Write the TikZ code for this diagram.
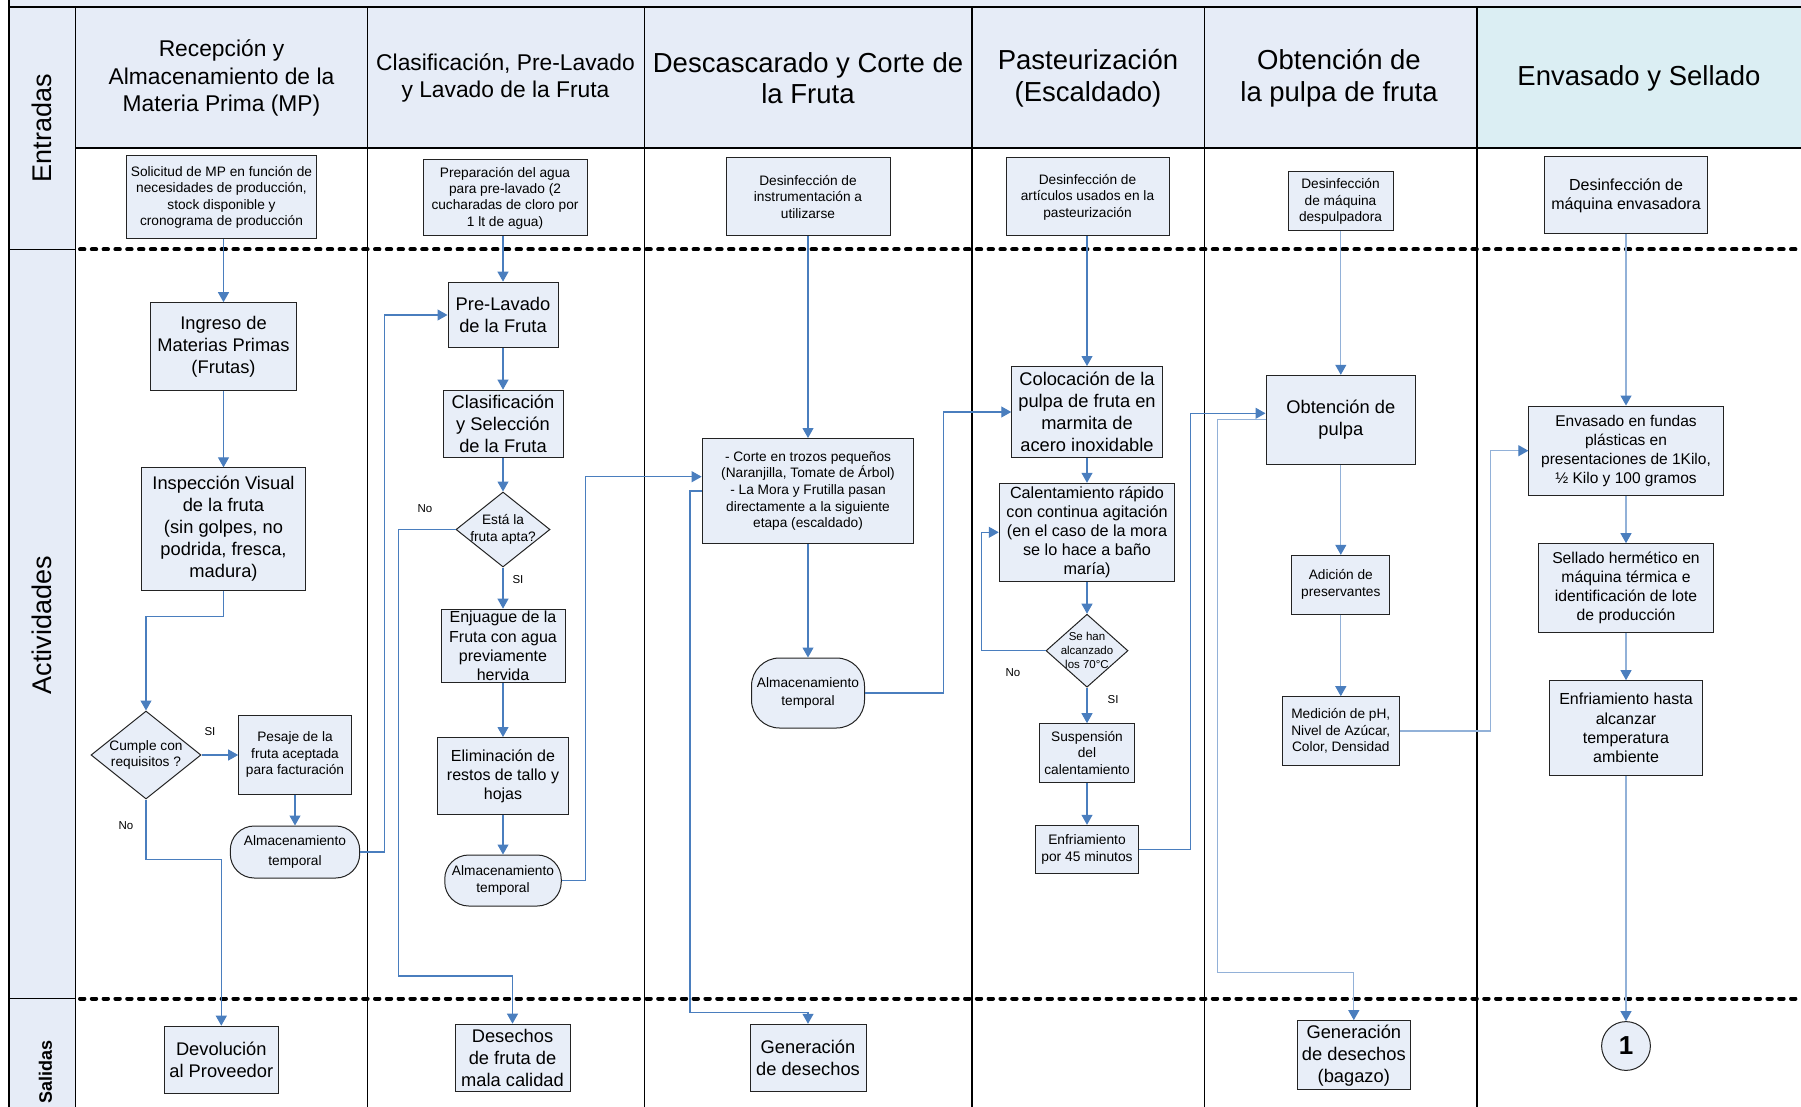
\documentclass[tikz,border=0pt]{standalone}
\usepackage{fontspec}
\setmainfont{Liberation Sans}
\usetikzlibrary{arrows.meta,shapes.geometric}

\definecolor{boxfill}{RGB}{232,238,248}
\definecolor{headfill}{RGB}{230,236,247}
\definecolor{cyanfill}{RGB}{219,238,243}
\definecolor{flow}{RGB}{74,126,190}
\definecolor{flowlight}{RGB}{146,177,216}
\definecolor{edge}{RGB}{35,35,35}

\newcommand\fsTiny{\fontsize{11.5}{14}\selectfont}
\newcommand\fsSmall{\fontsize{13.7}{16.4}\selectfont}
\newcommand\fsMid{\fontsize{16}{19.2}\selectfont}
\newcommand\fsMed{\fontsize{18.3}{22}\selectfont}
\newcommand\fsHead{\fontsize{22.8}{27.8}\selectfont}
\newcommand\fsBig{\fontsize{27.5}{31.5}\selectfont}

\begin{document}
\begin{tikzpicture}[x=1pt,y=-1pt,
  box/.style={draw=edge, fill=boxfill, line width=1pt, align=center, inner sep=0pt},
  term/.style={box, rounded corners=24pt},
  dia/.style={draw=edge, fill=boxfill, line width=1pt, diamond, inner sep=0pt},
  arr/.style={draw=flow, line width=1.1pt, -{Triangle[length=10pt,width=11pt]}},
  arrl/.style={draw=flowlight, line width=1.1pt, -{Triangle[length=10pt,width=11pt,color=flow]}},
  lane/.style={draw=black, line width=1.2pt},
  sect/.style={draw=black, line width=4pt, dash pattern=on 4.4pt off 7.4pt, line cap=round},
  tag/.style={font=\fsTiny, inner sep=0pt},
  conn/.style={circle, draw=edge, fill=boxfill, line width=1pt, minimum size=48.8pt, inner sep=0pt,
    font=\bfseries\fontsize{26}{30}\selectfont}
]
\useasboundingbox (0,0) rectangle (1801,1107);

% ---------- pool frame and lanes ----------
\fill[headfill] (9,0) rectangle (1801,7);
\fill[headfill] (9,7) rectangle (75.5,1107);
\fill[headfill] (75.5,7) rectangle (1477,148);
\fill[cyanfill] (1477,7) rectangle (1801,148);

\draw[lane] (9,7) -- (1801,7);
\draw[lane] (75.5,148) -- (1801,148);
\draw[line width=1.6pt] (9,0) -- (9,1107);
\foreach \x in {75.5,367.4,644.2,972,1204.4,1477}
  \draw[lane] (\x,7) -- (\x,1107);

% section separators
\draw[line width=1.6pt] (9,249.5) -- (75.5,249.5);
\draw[line width=1.6pt] (9,998.5) -- (75.5,998.5);
\draw[sect] (80,249.5) -- (1801,249.5);
\draw[sect] (80,998.5) -- (1801,998.5);

% section names
\node[rotate=90, font=\fontsize{27}{31}\selectfont] (sEnt) at (41.5,128) {Entradas};
\node[rotate=90, font=\fontsize{27}{31}\selectfont] (sAct) at (41.5,625) {Actividades};
\node[rotate=90, font=\bfseries\fontsize{18}{21}\selectfont] (sSal) at (45.5,1072) {Salidas};

% lane titles
\node[align=center, font=\fsHead] (t1) at (221.5,78) {Recepción y\\Almacenamiento de la\\Materia Prima (MP)};
\node[align=center, font=\fsHead] (t2) at (505.5,78) {Clasificación, Pre-Lavado\\y Lavado de la Fruta};
\node[align=center, font=\fsBig] (t3) at (808,78) {Descascarado y Corte de\\la Fruta};
\node[align=center, font=\fsBig] (t4) at (1088,78) {Pasteurización\\(Escaldado)};
\node[align=center, font=\fsBig] (t5) at (1339,78) {Obtención de\\la pulpa de fruta};
\node[align=center, font=\fsBig] (t6) at (1639,78) {Envasado y Sellado};

% ---------- inputs ----------
\node[box, font=\fsSmall, minimum width=190.5pt, minimum height=83pt] (e1) at (221.5,197.5)
  {Solicitud de MP en función de\\necesidades de producción,\\stock disponible y\\cronograma de producción};
\node[box, font=\fsSmall, minimum width=164pt, minimum height=76pt] (e2) at (505,198)
  {Preparación del agua\\para pre-lavado (2\\cucharadas de cloro por\\1 lt de agua)};
\node[box, font=\fsSmall, minimum width=164pt, minimum height=78pt] (e3) at (808,197)
  {Desinfección de\\instrumentación a\\utilizarse};
\node[box, font=\fsSmall, minimum width=163pt, minimum height=78pt] (e4) at (1087.5,197)
  {Desinfección de\\artículos usados en la\\pasteurización};
\node[box, font=\fsSmall, minimum width=105pt, minimum height=59pt] (e5) at (1340.5,201.5)
  {Desinfección\\de máquina\\despulpadora};
\node[box, font=\fsMid, minimum width=163.5pt, minimum height=77pt] (e6) at (1626,195.5)
  {Desinfección de\\máquina envasadora};

% ---------- lane 1 ----------
\node[box, font=\fsMed, minimum width=146pt, minimum height=88pt] (a1) at (223.5,346.7)
  {Ingreso de\\Materias Primas\\(Frutas)};
\node[box, font=\fsMed, minimum width=163.6pt, minimum height=122.3pt] (a2) at (223.5,529)
  {Inspección Visual\\de la fruta\\(sin golpes, no\\podrida, fresca,\\madura)};
\node[dia, minimum width=110pt, minimum height=88pt,
  label={[font=\fsSmall, align=center]center:{Cumple con\\requisitos ?}}] (d1) at (146,755) {};
\node[box, font=\fsSmall, minimum width=112.6pt, minimum height=79pt] (p1) at (295,754.7)
  {Pesaje de la\\fruta aceptada\\para facturación};
\node[term, font=\fontsize{13.7}{19.5}\selectfont, minimum width=129.4pt, minimum height=52pt] (s1) at (295,852)
  {Almacenamiento\\temporal};
\node[box, font=\fsMed, minimum width=113.6pt, minimum height=67pt] (o1) at (221.3,1059.7)
  {Devolución\\al Proveedor};

% ---------- lane 2 ----------
\node[box, font=\fsMed, minimum width=110pt, minimum height=65.7pt] (b1) at (503,315)
  {Pre-Lavado\\de la Fruta};
\node[box, font=\fsMed, minimum width=120pt, minimum height=67.7pt] (b2) at (503,424)
  {Clasificación\\y Selección\\de la Fruta};
\node[dia, minimum width=94pt, minimum height=75pt,
  label={[font=\fsSmall, align=center]center:{Está la\\fruta apta?}}] (d2) at (503,529.5) {};
\node[box, font=\fsMid, minimum width=124pt, minimum height=73.7pt] (b3) at (503,646)
  {Enjuague de la\\Fruta con agua\\previamente\\hervida};
\node[box, font=\fsMid, minimum width=130.3pt, minimum height=77pt] (b4) at (503,776)
  {Eliminación de\\restos de tallo y\\hojas};
\node[term, font=\fontsize{13.7}{17.3}\selectfont, minimum width=116.5pt, minimum height=51pt] (s2) at (503,880.5)
  {Almacenamiento\\temporal};
\node[box, font=\fsMed, minimum width=115pt, minimum height=67.7pt] (o2) at (512.5,1058)
  {Desechos\\de fruta de\\mala calidad};

% ---------- lane 3 ----------
\node[box, font=\fontsize{13.7}{16.6}\selectfont, minimum width=211.7pt, minimum height=105pt] (c1) at (808,491)
  {- Corte en trozos pequeños\\(Naranjilla, Tomate de Árbol)\\- La Mora y Frutilla pasan\\directamente a la siguiente\\etapa (escaldado)};
\node[box, rounded corners=28pt, font=\fontsize{13.7}{17.3}\selectfont, minimum width=113pt, minimum height=70pt] (c2) at (808,693)
  {Almacenamiento\\temporal};
\node[box, font=\fsMed, minimum width=116pt, minimum height=67.4pt] (o3) at (808,1058)
  {Generación\\de desechos};

% ---------- lane 4 ----------
\node[box, font=\fsMed, minimum width=150.5pt, minimum height=91pt] (f1) at (1087,412)
  {Colocación de la\\pulpa de fruta en\\marmita de\\acero inoxidable};
\node[box, font=\fontsize{16.2}{19}\selectfont, minimum width=175.5pt, minimum height=98pt] (f2) at (1087,532.3)
  {Calentamiento rápido\\con continua agitación\\(en el caso de la mora\\se lo hace a baño\\maría)};
\node[dia, minimum width=82pt, minimum height=73pt,
  label={[font=\fsTiny, align=center]center:{Se han\\alcanzado\\los 70°C}}] (d3) at (1087,650.7) {};
\node[box, font=\fsSmall, minimum width=95.6pt, minimum height=58.6pt] (f3) at (1087,753)
  {Suspensión\\del\\calentamiento};
\node[box, font=\fontsize{13.8}{17}\selectfont, minimum width=103.2pt, minimum height=48pt] (f4) at (1087,849.3)
  {Enfriamiento\\por 45 minutos};

% ---------- lane 5 ----------
\node[box, font=\fsMed, minimum width=149.6pt, minimum height=89pt] (g1) at (1340.8,419.8)
  {Obtención de\\pulpa};
\node[box, font=\fontsize{13.7}{17.3}\selectfont, minimum width=98.3pt, minimum height=58.7pt] (g2) at (1340.8,584.7)
  {Adición de\\preservantes};
\node[box, font=\fsSmall, minimum width=117pt, minimum height=68.6pt] (g3) at (1340.8,731)
  {Medición de pH,\\Nivel de Azúcar,\\Color, Densidad};
\node[box, font=\fsMed, minimum width=113.6pt, minimum height=69.3pt] (o5) at (1353.8,1055.3)
  {Generación\\de desechos\\(bagazo)};

% ---------- lane 6 ----------
\node[box, font=\fontsize{15.5}{19.1}\selectfont, minimum width=194.3pt, minimum height=89.3pt] (h1) at (1626,450.7)
  {Envasado en fundas\\plásticas en\\presentaciones de 1Kilo,\\½ Kilo y 100 gramos};
\node[box, font=\fontsize{15.7}{19}\selectfont, minimum width=175.5pt, minimum height=89pt] (h2) at (1626,588.2)
  {Sellado hermético en\\máquina térmica e\\identificación de lote\\de producción};
\node[box, font=\fsMid, minimum width=153.6pt, minimum height=94.6pt] (h3) at (1626,728)
  {Enfriamiento hasta\\alcanzar\\temperatura\\ambiente};
\node[conn] (cc) at (1626,1046) {1};

% ---------- connectors: lane 1 ----------
\draw[arr] (a1.north |- e1.south) -- (a1.north);
\draw[arr] (a1.south) -- (a2.north);
\draw[arr] (a2.south) -- ++(0,25.7) -| (d1.north);
\draw[arr] (d1.east) -- (p1.west |- d1.east);
\draw[arr] (d1.south) -- ++(0,60) -| (o1.north);
\draw[arr] (p1.south) -- (s1.north);
\draw[arr] (s1.east) -- ++(24.6,0) |- (b1.west);
\node[tag] (lsi1) at (210,731.5) {SI};
\node[tag] (lno1) at (126,826) {No};

% ---------- connectors: lane 2 ----------
\draw[arr] (b1.north |- e2.south) -- (b1.north);
\draw[arr] (b1.south) -- (b2.north);
\draw[arr] (b2.south) -- (d2.north);
\draw[arr] (d2.south) -- (b3.north);
\draw[arr] (b3.south) -- (b4.north);
\draw[arr] (b4.south) -- (s2.north);
\draw[arr] (d2.west) -- ++(-57.4,0) -- ++(0,446.5) -| (o2.north);
\draw[arr] (s2.east) -- ++(23.8,0) |- ([yshift=14.3pt]c1.west);
\node[tag] (lno2) at (425,509) {No};
\node[tag] (lsi2) at (518,580) {SI};

% ---------- connectors: lane 3 ----------
\draw[arr] (c1.north |- e3.south) -- (c1.north);
\draw[arr] (c1.south) -- (c2.north);
\draw[arr] (c1.west) -- ++(-11.7,0) -- ++(0,521.3) -| (o3.north);
\draw[arr] (c2.east) -- ++(78.5,0) |- (f1.west);

% ---------- connectors: lane 4 ----------
\draw[arr] (f1.north |- e4.south) -- (f1.north);
\draw[arr] (f1.south) -- (f2.north);
\draw[arr] (f2.south) -- (d3.north);
\draw[arr] (d3.south) -- (f3.north);
\draw[arr] (f3.south) -- (f4.north);
\draw[arr] (d3.west) -- ++(-63.7,0) |- (f2.west);
\draw[arr] (f4.east) -- ++(51.2,0) |- ([yshift=6.5pt]g1.west);
\node[tag] (lno3) at (1013,673) {No};
\node[tag] (lsi3) at (1113,699.5) {SI};

% ---------- connectors: lane 5 ----------
\draw[arrl] (g1.north |- e5.south) -- (g1.north);
\draw[arrl] (g1.south) -- (g2.north);
\draw[arrl] (g2.south) -- (g3.north);
\draw[arrl] (g1.west) -- ++(-48,0) -- ++(0,552.9) -| (o5.north);
\draw[arrl] (g3.east) -- ++(90.8,0) |- (h1.west);

% ---------- connectors: lane 6 ----------
\draw[arrl] (h1.north |- e6.south) -- (h1.north);
\draw[arrl] (h1.south) -- (h2.north);
\draw[arrl] (h2.south) -- (h3.north);
\draw[arrl] (h3.south) -- (cc.north);
\end{tikzpicture}
\end{document}
